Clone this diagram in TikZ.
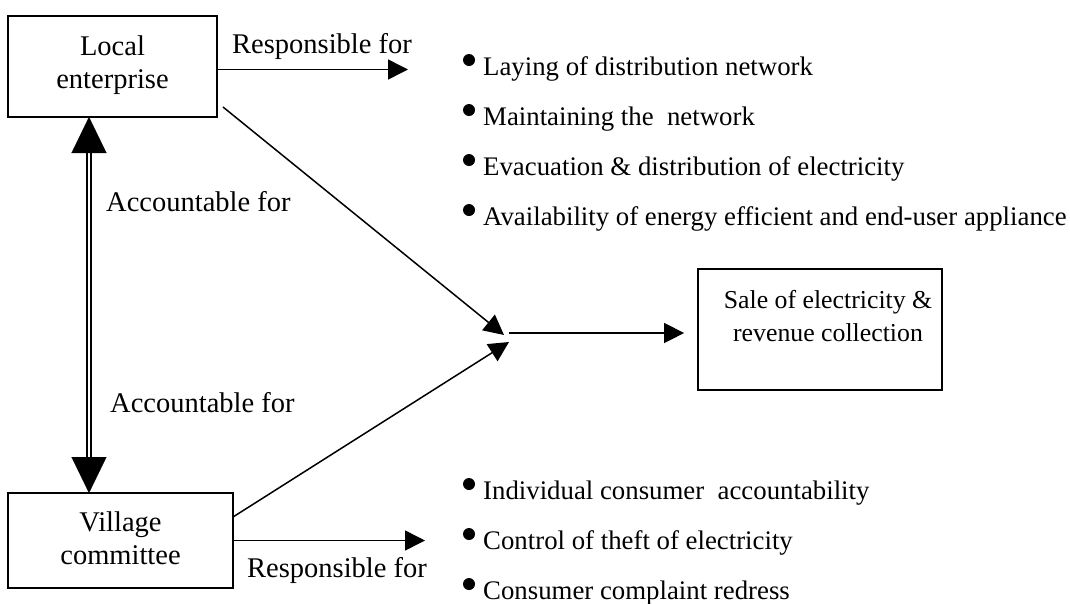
\documentclass[tikz,border=0pt]{standalone}
\usepackage{fontspec}
\setmainfont{Liberation Serif}
\usetikzlibrary{arrows.meta}
\begin{document}
\begin{tikzpicture}[x=1pt,y=-1pt,
  box/.style={draw, line width=1.8pt, inner sep=0pt},
  boxtext/.style={align=center, inner sep=0pt, font=\fontsize{28.5}{33}\selectfont},
  lbl/.style={anchor=base west, inner sep=0pt, font=\fontsize{28.5}{33}\selectfont},
  item/.style={anchor=base west, inner sep=0pt, font=\fontsize{26.8}{30}\selectfont},
  dot/.style={circle, fill=black, inner sep=0pt, minimum size=12pt},
  conn/.style={line width=1.5pt, -{Triangle[length=20pt,width=20pt]}},
  dblline/.style={double, line width=1.7pt, double distance=2.2pt},
  bigtips/.style={white, line width=0.1pt,
     {Triangle[length=36pt,width=35pt,color=black]}-{Triangle[length=36pt,width=35pt,color=black]}}
]
\useasboundingbox (0,0) rectangle (1070,603);

% boxes
\node[box, minimum width=209pt, minimum height=101pt] (le) at (112.5,66.5) {};
\node[boxtext] (let) at (112.5,65) {Local\\enterprise};
\node[box, minimum width=225pt, minimum height=95pt] (vc) at (120.5,540.5) {};
\node[boxtext] (vct) at (120.5,538) {Village\\committee};
\node[box, minimum width=244pt, minimum height=121pt] (sale) at (820,329.5) {};
\node[boxtext, font=\fontsize{25.8}{33}\selectfont] (salet) at (828,316) {Sale of electricity \&\\revenue collection};

% labels
\node[lbl] (resp1) at (232,53) {Responsible for};
\node[lbl] (acc1) at (106,211) {Accountable for};
\node[lbl] (acc2) at (110,412) {Accountable for};
\node[lbl] (resp2) at (247,577) {Responsible for};

% coordinates
\coordinate (r1e) at (408,69.5);
\coordinate (r2e) at (425,540.5);
\coordinate (d1s) at (223,107);
\coordinate (t1) at (504,335);
\coordinate (d2s) at (233,517);
\coordinate (t2) at (509,342);
\coordinate (hub) at (509,333);
\coordinate (acct) at (89,117);
\coordinate (accb) at (89,493);

% connectors
\draw[conn] (le.east |- r1e) -- (r1e);
\draw[conn] (vc.east |- r2e) -- (r2e);
\draw[conn] (d1s) -- (t1);
\draw[conn] (d2s) -- (t2);
\draw[conn, shorten >=13pt] (hub) -- (hub -| sale.west);
\draw[dblline, shorten <=33pt, shorten >=33pt] (acct) -- (accb);
\draw[bigtips] (acct) -- (accb);

% top bullet list
\node[dot] (b1) at (469,60) {};
\node[item] (i1) at (483,75) {Laying of distribution network};
\node[dot] (b2) at (469,110) {};
\node[item] (i2) at (483,125) {Maintaining the\ \ network};
\node[dot] (b3) at (469,160) {};
\node[item] (i3) at (483,175) {Evacuation \& distribution of electricity};
\node[dot] (b4) at (469,210) {};
\node[item] (i4) at (483,225) {Availability of energy efficient and end-user appliance};

% bottom bullet list
\node[dot] (c1) at (469,484) {};
\node[item] (j1) at (483,499) {Individual consumer\ \ accountability};
\node[dot] (c2) at (469,534) {};
\node[item] (j2) at (483,549) {Control of theft of electricity};
\node[dot] (c3) at (469,584) {};
\node[item] (j3) at (483,599) {Consumer complaint redress};
\end{tikzpicture}
\end{document}
